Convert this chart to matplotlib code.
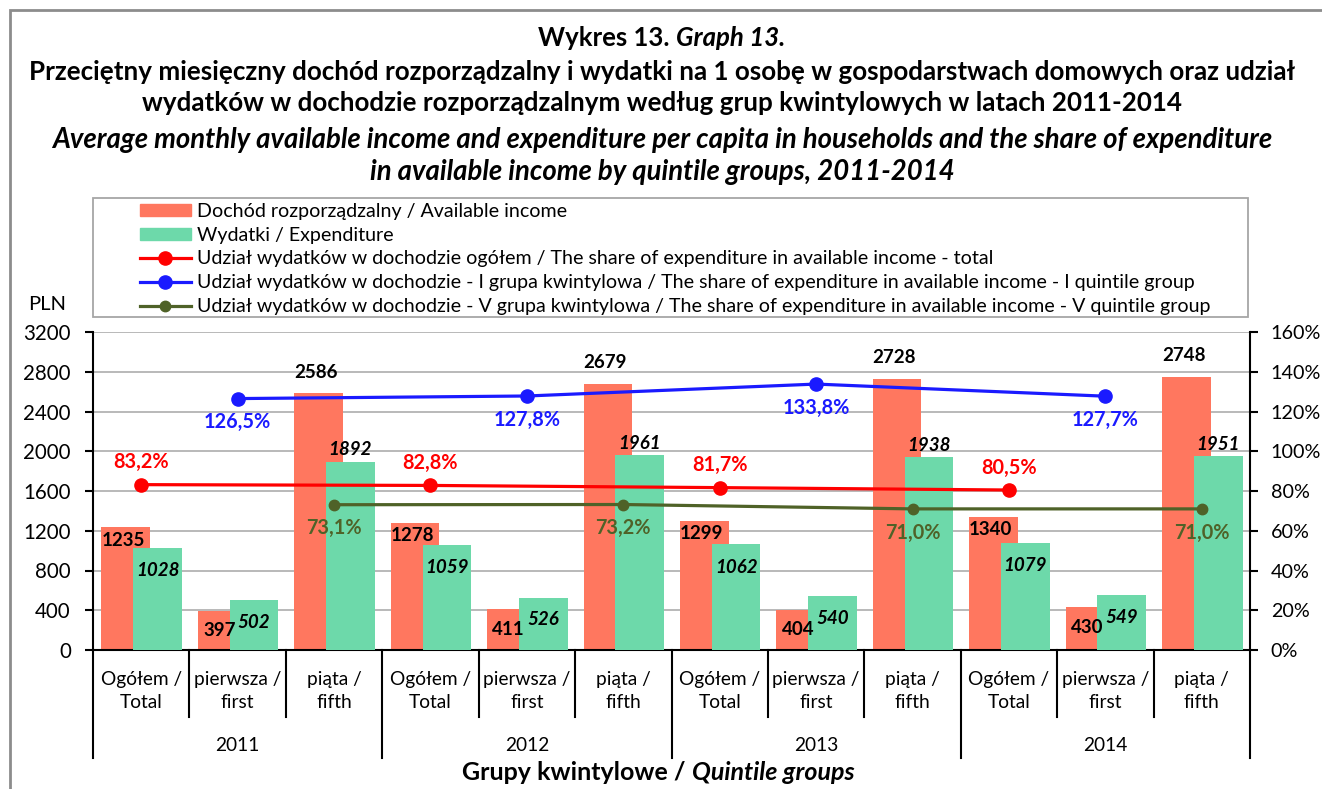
import matplotlib.pyplot as plt
import numpy as np
from matplotlib.lines import Line2D
from matplotlib.patches import Patch, Rectangle

plt.rcParams['font.family'] = ['Lato', 'DejaVu Sans']

# data
years = ['2011', '2012', '2013', '2014']
groups = ['Ogółem /\nTotal', 'pierwsza /\nfirst', 'piąta /\nfifth']
income = [1235, 397, 2586, 1278, 411, 2679, 1299, 404, 2728, 1340, 430, 2748]
expenditure = [1028, 502, 1892, 1059, 526, 1961, 1062, 540, 1938, 1079, 549, 1951]
share_total = [83.2, 82.8, 81.7, 80.5]
share_q1 = [126.5, 127.8, 133.8, 127.7]
share_q5 = [73.1, 73.2, 71.0, 71.0]

W, H = 1322, 789
def fx(px): return px / W
def fy(py): return 1 - py / H

c_inc = '#FF775F'
c_exp = '#6DD9AA'
c_tot = '#FF0000'
c_q1 = '#1A1AFF'
c_q5 = '#4F6228'

fig = plt.figure(figsize=(W / 100, H / 100), dpi=100)
ax = fig.add_axes([fx(93), fy(650), (1250 - 93) / W, (650 - 332) / H])
x = np.arange(len(income))
ax.set_xlim(-0.5, len(income) - 0.5)
ax.set_ylim(0, 3200)
ax.set_yticks(np.arange(0, 3201, 400))
ax.yaxis.grid(True, color='#B3B3B3', linewidth=1.3)
ax.set_axisbelow(True)
ax.bar(x - 0.16, income, width=0.505, color=c_inc, zorder=2)
ax.bar(x + 0.17, expenditure, width=0.505, color=c_exp, zorder=3)

# bar value labels
inc_off = [-13, -20, 21]
exp_off = [-23, -22, 12]
for i in range(len(income)):
    ax.annotate(str(income[i]), (x[i] - 0.16, income[i]), xytext=(-2, inc_off[i % 3] * 0.72),
                textcoords='offset points', ha='center', va='center',
                fontsize=13.5, fontweight='bold', zorder=5)
    ax.annotate(str(expenditure[i]), (x[i] + 0.17, expenditure[i]), xytext=(0, exp_off[i % 3] * 0.72),
                textcoords='offset points', ha='center', va='center',
                fontsize=13.5, fontweight='bold', style='italic', zorder=5)

ax.tick_params(axis='y', labelsize=14.8, length=6, width=1.5, direction='out', pad=10)
ax.tick_params(axis='x', bottom=False, labelbottom=False)
for s in ['top', 'right']:
    ax.spines[s].set_visible(False)
ax.spines['left'].set_linewidth(1.5)
ax.spines['bottom'].set_linewidth(1.5)

ax2 = ax.twinx()
ax2.set_ylim(0, 160)
ax2.set_yticks(np.arange(0, 161, 20))
ax2.set_yticklabels([f'{v}%' for v in range(0, 161, 20)])
ax2.tick_params(axis='y', labelsize=14.2, length=6, width=1.5, direction='out', pad=9)
for s in ['top', 'left', 'bottom']:
    ax2.spines[s].set_visible(False)
ax2.spines['right'].set_linewidth(1.5)

def pct(v):
    return f'{v:.1f}'.replace('.', ',') + '%'

series = [(share_total, 0, c_tot, 9.5, 16),
          (share_q1, 1, c_q1, 9.5, -17),
          (share_q5, 2, c_q5, 7.5, -17)]
for vals, start, col, ms, off in series:
    xs = x[start::3]
    ax2.plot(xs, vals, color=col, linewidth=2.3, marker='o', markersize=ms, zorder=4)
    for xi, v in zip(xs, vals):
        ax2.annotate(pct(v), (xi, v), xytext=(0, off), textcoords='offset points',
                     ha='center', va='center', fontsize=14.3, fontweight='bold', color=col)

# two-level category axis
tr = ax.get_xaxis_transform()
for b in np.arange(-0.5, len(income), 1.0):
    low = -0.34 if (b + 0.5) % 3 == 0 else -0.211
    ax.plot([b, b], [0, low], color='black', linewidth=1.5, transform=tr, clip_on=False)
for i in range(len(income)):
    ax.text(x[i], -0.128, groups[i % 3], transform=tr, ha='center', va='center',
            fontsize=13.8, linespacing=1.45)
for k, yr in enumerate(years):
    ax.text(3 * k + 1, -0.299, yr, transform=tr, ha='center', va='center', fontsize=13.8)

fig.text(fx(47), fy(305), 'PLN', ha='center', va='center', fontsize=14.5)

renderer = fig.canvas.get_renderer()
def mixed(parts, xc, y, size):
    texts = []
    for s, st in parts:
        t = fig.text(0, fy(y), s, fontsize=size, fontweight='bold', style=st, va='center', ha='left')
        texts.append(t)
    widths = [t.get_window_extent(renderer).width for t in texts]
    x0 = xc - sum(widths) / 2
    for t, w in zip(texts, widths):
        t.set_x(fx(x0))
        x0 += w

mixed([('Wykres 13. ', 'normal'), ('Graph 13.', 'italic')], 662, 38, 18.5)
fig.text(fx(662), fy(72), 'Przeciętny miesięczny dochód rozporządzalny i wydatki na 1 osobę w gospodarstwach domowych oraz udział',
         ha='center', va='center', fontsize=18.7, fontweight='bold')
fig.text(fx(662), fy(103), 'wydatków w dochodzie rozporządzalnym według grup kwintylowych w latach 2011-2014',
         ha='center', va='center', fontsize=18.7, fontweight='bold')
fig.text(fx(662), fy(140), 'Average monthly available income and expenditure per capita in households and the share of expenditure',
         ha='center', va='center', fontsize=19.8, fontweight='bold', style='italic')
fig.text(fx(662), fy(172), 'in available income by quintile groups, 2011-2014',
         ha='center', va='center', fontsize=19.8, fontweight='bold', style='italic')
mixed([('Grupy kwintylowe / ', 'normal'), ('Quintile groups', 'italic')], 658, 773, 18)

# legend
fig.patches.append(Rectangle((fx(93), fy(317)), (1248 - 93) / W, (317 - 198) / H,
                             transform=fig.transFigure, fill=False, edgecolor='#A6A6A6', linewidth=1.3))
handles = [Patch(color=c_inc), Patch(color=c_exp),
           Line2D([], [], color=c_tot, lw=2.3, marker='o', ms=9.5),
           Line2D([], [], color=c_q1, lw=2.3, marker='o', ms=9.5),
           Line2D([], [], color=c_q5, lw=2.3, marker='o', ms=7.5)]
labels = ['Dochód rozporządzalny / Available income',
          'Wydatki / Expenditure',
          'Udział wydatków w dochodzie ogółem / The share of expenditure in available income - total',
          'Udział wydatków w dochodzie - I grupa kwintylowa / The share of expenditure in available income - I quintile group',
          'Udział wydatków w dochodzie - V grupa kwintylowa / The share of expenditure in available income - V quintile group']
fig.legend(handles, labels, loc='upper left', bbox_to_anchor=(fx(126), fy(189)), frameon=False,
           fontsize=14.1, handlelength=2.6, handleheight=0.55, handletextpad=0.31, labelspacing=0.35,
           borderpad=0.2)

# outer frame
fig.patches.append(Rectangle((fx(10), -0.1), 1.1, fy(10) + 0.1, transform=fig.transFigure,
                             fill=False, edgecolor='#8C8C8C', linewidth=2))

fig.savefig('out.png', dpi=100)
